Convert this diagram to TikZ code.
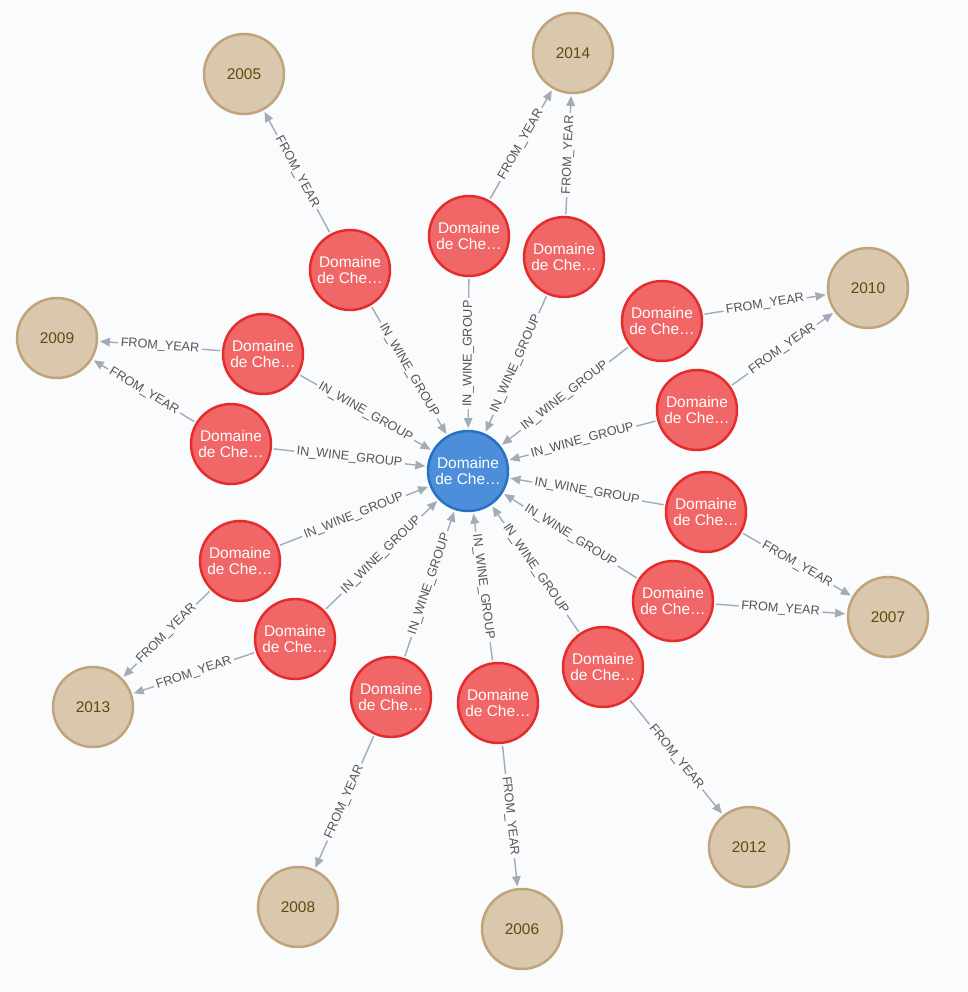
\documentclass[tikz,border=0pt]{standalone}
\usepackage{fontspec}
\setmainfont{Liberation Sans}
\usetikzlibrary{arrows.meta}

\definecolor{bgcol}{HTML}{F9FBFD}
\definecolor{winefill}{HTML}{F16667}
\definecolor{winedraw}{HTML}{E52C2C}
\definecolor{grpfill}{HTML}{4C8EDA}
\definecolor{grpdraw}{HTML}{2870C2}
\definecolor{yearfill}{HTML}{D9C8AE}
\definecolor{yeardraw}{HTML}{C0A378}
\definecolor{yeartext}{HTML}{604A0E}
\definecolor{edgecol}{HTML}{A5ABB6}
\definecolor{lblcol}{HTML}{555555}

\begin{document}
\begin{tikzpicture}[
    x=0.02cm, y=-0.02cm,
    wine/.style={
        circle, draw=winedraw, fill=winefill, line width=1.4pt,
        minimum size=1.6cm, inner sep=0pt, align=center,
        text=white, font=\fontsize{8.8}{9.4}\selectfont
    },
    group/.style={wine, draw=grpdraw, fill=grpfill},
    year/.style={wine, draw=yeardraw, fill=yearfill, text=yeartext},
    arr/.style={-{Triangle[length=0.2cm, width=0.17cm]}, draw=edgecol,
        line width=0.8pt, shorten >=1pt, shorten <=1pt},
    rel/.style={
        midway, sloped, fill=bgcol, inner sep=1.5pt,
        text=lblcol, font=\fontsize{7.2}{8}\selectfont
    },
]

% Background and page size
\fill[bgcol] (0,0) rectangle (968,992);
\useasboundingbox (0,0) rectangle (968,992);

% Central node: the wine group
\node[group] (grp) at (468,471) {Domaine\\de Che…};

% Wines round the group
\node[wine] (d05)  at (350,270) {Domaine\\de Che…};
\node[wine] (d14a) at (469,236) {Domaine\\de Che…};
\node[wine] (d14b) at (564,257) {Domaine\\de Che…};
\node[wine] (d09a) at (263,354) {Domaine\\de Che…};
\node[wine] (d09b) at (231,444) {Domaine\\de Che…};
\node[wine] (d10a) at (662,321) {Domaine\\de Che…};
\node[wine] (d10b) at (697,410) {Domaine\\de Che…};
\node[wine] (d07a) at (706,512) {Domaine\\de Che…};
\node[wine] (d07b) at (673,601) {Domaine\\de Che…};
\node[wine] (d13a) at (240,561) {Domaine\\de Che…};
\node[wine] (d13b) at (295,639) {Domaine\\de Che…};
\node[wine] (d08)  at (391,697) {Domaine\\de Che…};
\node[wine] (d06)  at (498,703) {Domaine\\de Che…};
\node[wine] (d12)  at (603,667) {Domaine\\de Che…};

% Years on the outer ring
\node[year] (y05) at (244,74)  {2005};
\node[year] (y14) at (573,53)  {2014};
\node[year] (y09) at (57,338)  {2009};
\node[year] (y10) at (868,288) {2010};
\node[year] (y07) at (888,617) {2007};
\node[year] (y13) at (93,707)  {2013};
\node[year] (y08) at (298,907) {2008};
\node[year] (y06) at (522,929) {2006};
\node[year] (y12) at (749,847) {2012};

% Wine -> group
\draw[arr] (d05)  -- node[rel] {IN\_WINE\_GROUP} (grp);
\draw[arr] (d14a) -- node[rel] {IN\_WINE\_GROUP} (grp);
\draw[arr] (d14b) -- node[rel] {IN\_WINE\_GROUP} (grp);
\draw[arr] (d09a) -- node[rel] {IN\_WINE\_GROUP} (grp);
\draw[arr] (d09b) -- node[rel] {IN\_WINE\_GROUP} (grp);
\draw[arr] (d10a) -- node[rel] {IN\_WINE\_GROUP} (grp);
\draw[arr] (d10b) -- node[rel] {IN\_WINE\_GROUP} (grp);
\draw[arr] (d07a) -- node[rel] {IN\_WINE\_GROUP} (grp);
\draw[arr] (d07b) -- node[rel] {IN\_WINE\_GROUP} (grp);
\draw[arr] (d13a) -- node[rel] {IN\_WINE\_GROUP} (grp);
\draw[arr] (d13b) -- node[rel] {IN\_WINE\_GROUP} (grp);
\draw[arr] (d08)  -- node[rel] {IN\_WINE\_GROUP} (grp);
\draw[arr] (d06)  -- node[rel] {IN\_WINE\_GROUP} (grp);
\draw[arr] (d12)  -- node[rel] {IN\_WINE\_GROUP} (grp);

% Wine -> year
\draw[arr] (d05)  -- node[rel] {FROM\_YEAR} (y05);
\draw[arr] (d14a) -- node[rel] {FROM\_YEAR} (y14);
\draw[arr] (d14b) -- node[rel] {FROM\_YEAR} (y14);
\draw[arr] (d09a) -- node[rel] {FROM\_YEAR} (y09);
\draw[arr] (d09b) -- node[rel] {FROM\_YEAR} (y09);
\draw[arr] (d10a) -- node[rel] {FROM\_YEAR} (y10);
\draw[arr] (d10b) -- node[rel] {FROM\_YEAR} (y10);
\draw[arr] (d07a) -- node[rel] {FROM\_YEAR} (y07);
\draw[arr] (d07b) -- node[rel] {FROM\_YEAR} (y07);
\draw[arr] (d13a) -- node[rel] {FROM\_YEAR} (y13);
\draw[arr] (d13b) -- node[rel] {FROM\_YEAR} (y13);
\draw[arr] (d08)  -- node[rel] {FROM\_YEAR} (y08);
\draw[arr] (d06)  -- node[rel] {FROM\_YEAR} (y06);
\draw[arr] (d12)  -- node[rel] {FROM\_YEAR} (y12);

\end{tikzpicture}
\end{document}
